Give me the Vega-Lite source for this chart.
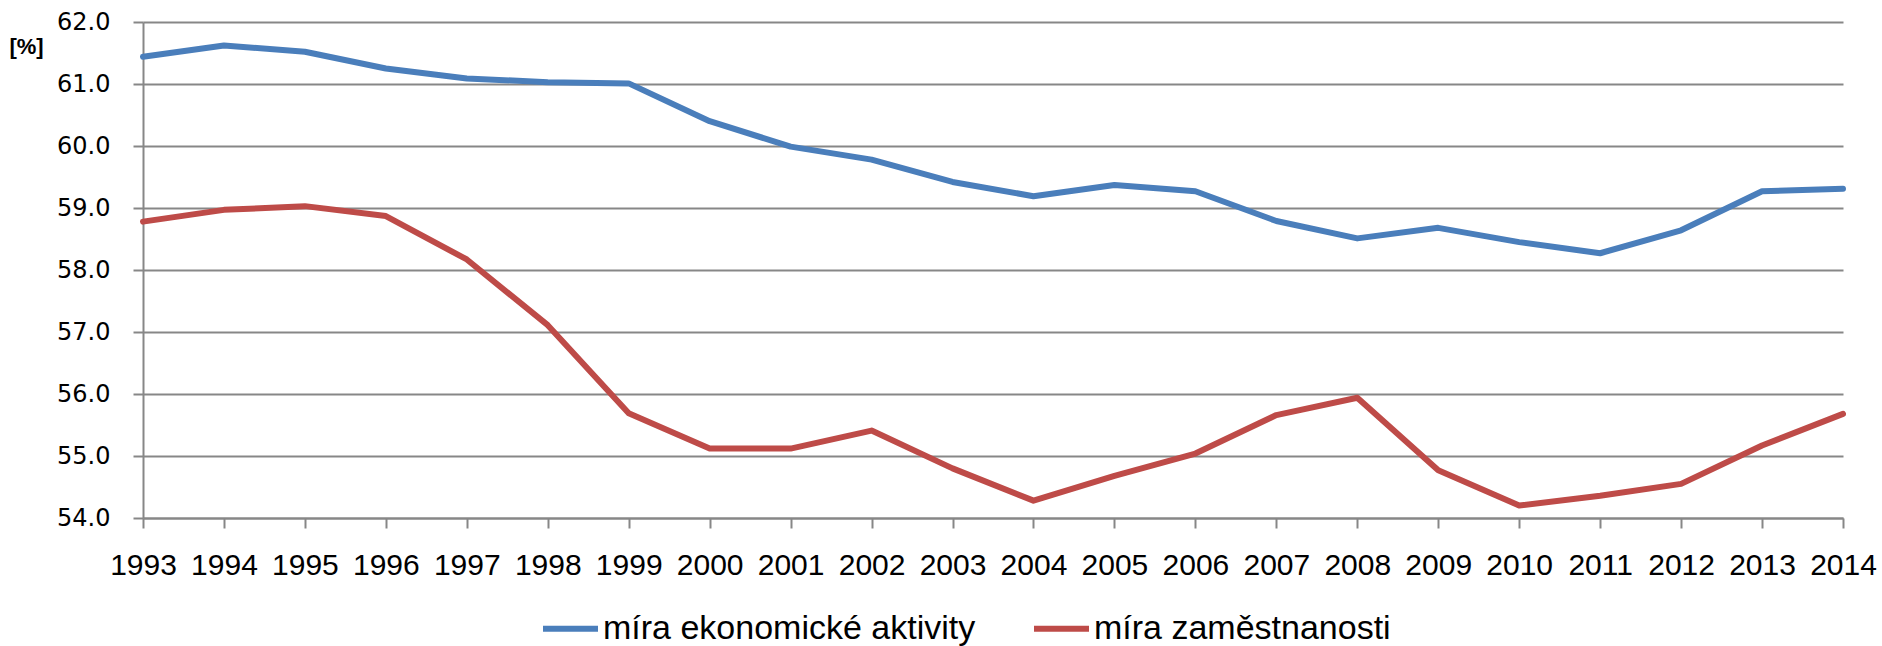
{
  "$schema": "https://vega.github.io/schema/vega-lite/v6.json",
  "width": 1700,
  "height": 496,
  "autosize": "none",
  "padding": {"left": 143, "top": 22, "right": 39, "bottom": 128},
  "background": "white",
  "config": {"view": {"stroke": null}, "font": "Liberation Sans"},
  "data": {
    "values": [
      {"year": 1993, "series": "míra ekonomické aktivity", "value": 61.44},
      {"year": 1994, "series": "míra ekonomické aktivity", "value": 61.62},
      {"year": 1995, "series": "míra ekonomické aktivity", "value": 61.52},
      {"year": 1996, "series": "míra ekonomické aktivity", "value": 61.25},
      {"year": 1997, "series": "míra ekonomické aktivity", "value": 61.09},
      {"year": 1998, "series": "míra ekonomické aktivity", "value": 61.03},
      {"year": 1999, "series": "míra ekonomické aktivity", "value": 61.01},
      {"year": 2000, "series": "míra ekonomické aktivity", "value": 60.40},
      {"year": 2001, "series": "míra ekonomické aktivity", "value": 59.99},
      {"year": 2002, "series": "míra ekonomické aktivity", "value": 59.78},
      {"year": 2003, "series": "míra ekonomické aktivity", "value": 59.42},
      {"year": 2004, "series": "míra ekonomické aktivity", "value": 59.19},
      {"year": 2005, "series": "míra ekonomické aktivity", "value": 59.37},
      {"year": 2006, "series": "míra ekonomické aktivity", "value": 59.27},
      {"year": 2007, "series": "míra ekonomické aktivity", "value": 58.79},
      {"year": 2008, "series": "míra ekonomické aktivity", "value": 58.51},
      {"year": 2009, "series": "míra ekonomické aktivity", "value": 58.68},
      {"year": 2010, "series": "míra ekonomické aktivity", "value": 58.45},
      {"year": 2011, "series": "míra ekonomické aktivity", "value": 58.27},
      {"year": 2012, "series": "míra ekonomické aktivity", "value": 58.64},
      {"year": 2013, "series": "míra ekonomické aktivity", "value": 59.27},
      {"year": 2014, "series": "míra ekonomické aktivity", "value": 59.31},
      {"year": 1993, "series": "míra zaměstnanosti", "value": 58.78},
      {"year": 1994, "series": "míra zaměstnanosti", "value": 58.97},
      {"year": 1995, "series": "míra zaměstnanosti", "value": 59.03},
      {"year": 1996, "series": "míra zaměstnanosti", "value": 58.87},
      {"year": 1997, "series": "míra zaměstnanosti", "value": 58.17},
      {"year": 1998, "series": "míra zaměstnanosti", "value": 57.11},
      {"year": 1999, "series": "míra zaměstnanosti", "value": 55.69},
      {"year": 2000, "series": "míra zaměstnanosti", "value": 55.12},
      {"year": 2001, "series": "míra zaměstnanosti", "value": 55.12},
      {"year": 2002, "series": "míra zaměstnanosti", "value": 55.41},
      {"year": 2003, "series": "míra zaměstnanosti", "value": 54.80},
      {"year": 2004, "series": "míra zaměstnanosti", "value": 54.28},
      {"year": 2005, "series": "míra zaměstnanosti", "value": 54.68},
      {"year": 2006, "series": "míra zaměstnanosti", "value": 55.04},
      {"year": 2007, "series": "míra zaměstnanosti", "value": 55.66},
      {"year": 2008, "series": "míra zaměstnanosti", "value": 55.94},
      {"year": 2009, "series": "míra zaměstnanosti", "value": 54.77},
      {"year": 2010, "series": "míra zaměstnanosti", "value": 54.20},
      {"year": 2011, "series": "míra zaměstnanosti", "value": 54.36},
      {"year": 2012, "series": "míra zaměstnanosti", "value": 54.55},
      {"year": 2013, "series": "míra zaměstnanosti", "value": 55.17},
      {"year": 2014, "series": "míra zaměstnanosti", "value": 55.68}
    ]
  },
  "mark": {"type": "line", "strokeWidth": 6, "strokeJoin": "round", "strokeCap": "round"},
  "encoding": {
    "x": {
      "field": "year",
      "type": "quantitative",
      "scale": {"domain": [1993, 2014], "nice": false, "zero": false},
      "axis": {
        "values": [1993, 1994, 1995, 1996, 1997, 1998, 1999, 2000, 2001, 2002, 2003, 2004, 2005, 2006, 2007, 2008, 2009, 2010, 2011, 2012, 2013, 2014],
        "format": "d",
        "title": null,
        "grid": false,
        "labelFont": "Liberation Sans",
        "labelFontSize": 30,
        "labelColor": "#000000",
        "labelPadding": 22,
        "labelFlush": false,
        "labelOverlap": false,
        "tickSize": 10,
        "tickColor": "#878787",
        "tickWidth": 2,
        "domainColor": "#878787",
        "domainWidth": 2
      }
    },
    "y": {
      "field": "value",
      "type": "quantitative",
      "scale": {"domain": [54, 62], "nice": false, "zero": false},
      "axis": {
        "values": [54, 55, 56, 57, 58, 59, 60, 61, 62],
        "format": ".1f",
        "title": "[%]",
        "titleAngle": 0,
        "titleFont": "Liberation Sans",
        "titleFontWeight": "bold",
        "titleFontSize": 22,
        "titleColor": "#000000",
        "titleX": -117,
        "titleY": 24.6,
        "titleAlign": "center",
        "titleBaseline": "middle",
        "grid": true,
        "gridColor": "#878787",
        "gridWidth": 2,
        "labelFont": "DejaVu Sans",
        "labelFontSize": 24,
        "labelColor": "#000000",
        "labelPadding": 23,
        "labelFlush": false,
        "labelOverlap": false,
        "tickSize": 10,
        "tickColor": "#878787",
        "tickWidth": 2,
        "domainColor": "#878787",
        "domainWidth": 2
      }
    },
    "color": {
      "field": "series",
      "type": "nominal",
      "scale": {"domain": ["míra ekonomické aktivity", "míra zaměstnanosti"], "range": ["#4A7EBB", "#BE4B48"]},
      "legend": {
        "orient": "none",
        "legendX": 397,
        "legendY": 576,
        "direction": "horizontal",
        "title": null,
        "symbolType": "stroke",
        "symbolSize": 3025,
        "symbolStrokeWidth": 6,
        "labelFont": "Liberation Sans",
        "labelFontSize": 34,
        "labelColor": "#000000",
        "labelLimit": 800,
        "labelOffset": 2,
        "columnPadding": 46,
        "padding": 0
      }
    }
  }
}
